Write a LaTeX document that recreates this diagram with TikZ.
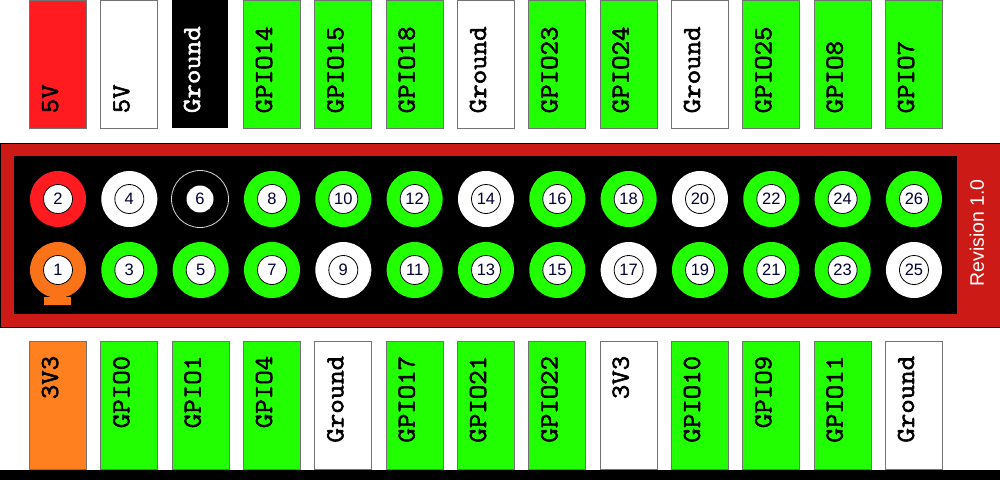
\documentclass[tikz,border=0pt]{standalone}
\usepackage{fontspec}
\setmainfont{Liberation Sans}
\newfontfamily\pinfont[FakeBold=2.2,FakeStretch=1.08]{Latin Modern Mono}
\usepackage{tikz}
\definecolor{pinred}{HTML}{FF1B1F}
\definecolor{pinorange}{HTML}{FF801E}
\definecolor{ringorange}{HTML}{FA7319}
\definecolor{pingreen}{HTML}{22FF00}
\definecolor{boardred}{HTML}{CC1A16}
\tikzset{
  every pinbox/.style={draw=black!55,line width=.8pt,minimum width=57,minimum height=128,inner sep=0},
  pinlabel/.style={rotate=90,anchor=base west,inner sep=0,font=\pinfont\fontsize{26}{26}\selectfont},
  pinring/.style={circle,minimum size=56,inner sep=0},
  pinhole/.style={circle,draw=black,line width=.8pt,fill=white,minimum size=29,inner sep=0,font=\fontsize{16.5}{16.5}\selectfont,text=black!80!blue},
}
\begin{document}
\begin{tikzpicture}[x=1pt,y=-1pt]
\useasboundingbox (0,0) rectangle (1000,480);
\fill[white] (0,0) rectangle (1000,480);
\fill[black] (0,470) rectangle (1000,480);
% board
\node[draw=black,line width=1pt,fill=boardred,minimum width=1000,minimum height=184,inner sep=0] (board) at (500,235) {};
\node[fill=black,minimum width=943,minimum height=158,inner sep=0] (header) at (485.5,235) {};
\node[rotate=90,text=white,inner sep=0,font=\fontsize{19.5}{19.5}\selectfont] (revision) at (977,233) {Revision 1.0};
% even pins, top row
\foreach[evaluate=\k as \px using {58+71.33*\k},evaluate=\k as \pin using {int(2*\k+2)}] \k/\name/\col in {
  0/5V/pinred,1/5V/white,3/GPIO14/pingreen,4/GPIO15/pingreen,
  5/GPIO18/pingreen,6/Ground/white,7/GPIO23/pingreen,8/GPIO24/pingreen,
  9/Ground/white,10/GPIO25/pingreen,11/GPIO8/pingreen,12/GPIO7/pingreen} {
  \node[every pinbox,fill=\col] (box\pin) at (\px,64) {};
  \node[pinlabel] (name\pin) at ([yshift=15]box\pin.south) {\name};
  \node[pinring,fill=\col] (ring\pin) at (\px,199) {};
  \node[pinhole] (pin\pin) at (ring\pin) {\pin};
}
% pin 6 is drawn differently
\node[fill=black,minimum width=56,minimum height=128,inner sep=0] (box6) at (200,64) {};
\node[pinlabel,text=white] (name6) at ([yshift=15]box6.south) {Ground};
\node[circle,draw=white!85!black,line width=.8pt,minimum size=57,inner sep=0] (ring6) at (200,199) {};
\node[circle,fill=white,minimum size=27,inner sep=0,font=\fontsize{16.5}{16.5}\selectfont,text=black!80!blue] (pin6) at (ring6) {6};
% odd pins, bottom row
\fill[ringorange] (44,297) rectangle (71,305);
\foreach[evaluate=\k as \px using {58+71.33*\k},evaluate=\k as \pin using {int(2*\k+1)}] \k/\name/\col/\rcol in {
  0/3V3/pinorange/ringorange,1/GPIO0/pingreen/pingreen,2/GPIO1/pingreen/pingreen,3/GPIO4/pingreen/pingreen,
  4/Ground/white/white,5/GPIO17/pingreen/pingreen,6/GPIO21/pingreen/pingreen,7/GPIO22/pingreen/pingreen,
  8/3V3/white/white,9/GPIO10/pingreen/pingreen,10/GPIO9/pingreen/pingreen,11/GPIO11/pingreen/pingreen,
  12/Ground/white/white} {
  \node[every pinbox,fill=\col] (box\pin) at (\px,405) {};
  \node[pinlabel,anchor=base east] (name\pin) at ([yshift=-15]box\pin.north) {\name};
  \node[pinring,fill=\rcol] (ring\pin) at (\px,270) {};
  \node[pinhole] (pin\pin) at (ring\pin) {\pin};
}
\end{tikzpicture}
\end{document}
